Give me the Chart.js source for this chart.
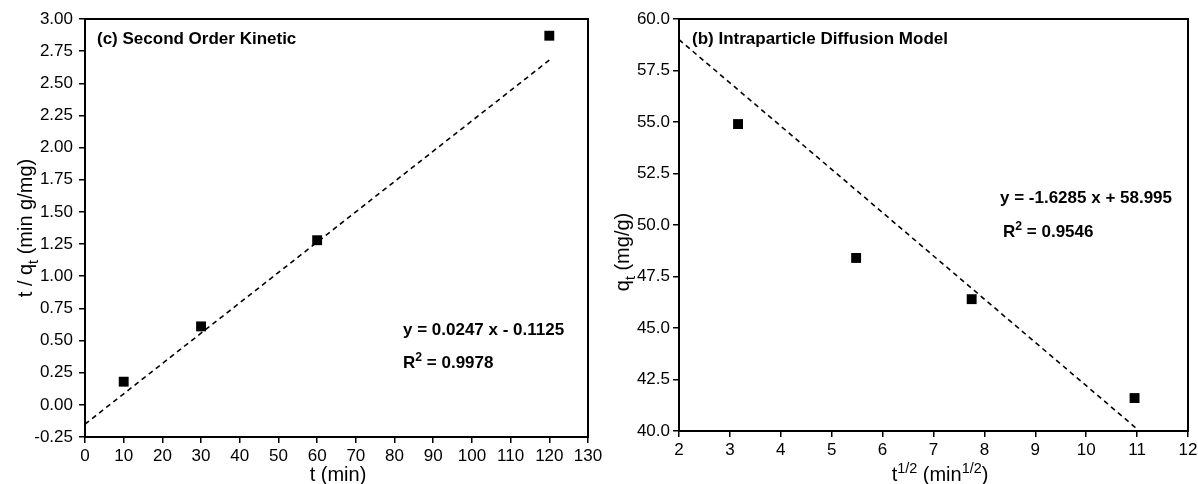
<!DOCTYPE html>
<html>
<head>
<meta charset="utf-8">
<script src="https://cdn.jsdelivr.net/npm/chart.js@4.4.1/dist/chart.umd.min.js"></script>
<style>
html,body{margin:0;padding:0;background:#fff;}
#wrap{position:relative;width:1198px;height:484px;overflow:hidden;}
#c1{position:absolute;left:0;top:0;}
#c2{position:absolute;left:600px;top:0;}
</style>
</head>
<body>
<div id="wrap">
<canvas id="c1" width="610" height="484"></canvas>
<canvas id="c2" width="598" height="484"></canvas>
</div>
<script>
// ---- Data: (c) Second Order Kinetic ----
const secT = [10, 30, 60, 120];
const secTq = [0.18, 0.61, 1.28, 2.87];
const secFitT = [0, 120];
const secFitTq = [-0.15, 2.68];
const secXTicks = [0,10,20,30,40,50,60,70,80,90,100,110,120,130];
const secYTicks = [-0.25,0,0.25,0.5,0.75,1,1.25,1.5,1.75,2,2.25,2.5,2.75,3];

// ---- Data: (b) Intraparticle Diffusion Model ----
const ipdT = [3.16, 5.48, 7.75, 10.95];
const ipdQ = [54.9, 48.4, 46.4, 41.6];
const ipdFitT = [2, 11];
const ipdFitQ = [59.0, 40.1];
const ipdXTicks = [2,3,4,5,6,7,8,9,10,11,12];
const ipdYTicks = [40,42.5,45,47.5,50,52.5,55,57.5,60];

const FONT = "'Liberation Sans', Arial, sans-serif";

function pts(xs, ys){ return xs.map((x,i)=>({x:x, y:ys[i]})); }

function richWidth(ctx, segs, size, bold){
  let w=0;
  segs.forEach(s=>{
    const sz = (s.sup||s.sub) ? size*0.72 : size;
    ctx.font = (bold?'bold ':'') + sz + 'px ' + FONT;
    w += ctx.measureText(s.t).width;
  });
  return w;
}
function richText(ctx, segs, x, y, size, bold, align){
  ctx.save();
  ctx.fillStyle = '#000';
  ctx.textBaseline = 'alphabetic';
  ctx.textAlign = 'left';
  let cx = x;
  if (align === 'center') cx = x - richWidth(ctx, segs, size, bold)/2;
  segs.forEach(s=>{
    const sz = (s.sup||s.sub) ? size*0.72 : size;
    ctx.font = (bold?'bold ':'') + sz + 'px ' + FONT;
    let dy = 0;
    if (s.sup) dy = -size*0.42;
    if (s.sub) dy = size*0.28;
    ctx.fillText(s.t, cx, y + dy);
    cx += ctx.measureText(s.t).width;
  });
  ctx.restore();
}

function makeTextPlugin(items){
  return {
    id:'texts',
    afterDraw(chart){
      const ctx = chart.ctx;
      const a = chart.chartArea;
      ctx.save();
      ctx.strokeStyle = '#000';
      ctx.lineWidth = 2;
      ctx.strokeRect(a.left, a.top, a.right - a.left, a.bottom - a.top);
      ctx.restore();
      items.forEach(it=>{
        if (it.rotate){
          ctx.save();
          ctx.translate(it.x, it.y);
          ctx.rotate(-Math.PI/2);
          richText(ctx, it.segs, 0, 0, it.size, it.bold, 'center');
          ctx.restore();
        } else {
          richText(ctx, it.segs, it.x, it.y, it.size, it.bold, it.align||'left');
        }
      });
    }
  };
}

function axisCommon(min, max, ticks, decimals, fit, pad){
  return {
    type:'linear', min:min, max:max,
    afterBuildTicks(s){ s.ticks = ticks.map(v=>({value:v})); },
    afterFit: fit,
    border:{display:true, color:'#000', width:2},
    grid:{display:true, drawOnChartArea:false, drawTicks:true, tickLength:6, color:'#000', lineWidth:1.5},
    ticks:{color:'#000', padding:pad, font:{family:FONT, size:17},
      callback:(v)=> decimals==null ? String(v) : Number(v).toFixed(decimals)},
    title:{display:false}
  };
}

function makeChart(id, xs, ys, fx, fy, xScale, yScale, padding, texts){
  return new Chart(document.getElementById(id), {
    type:'scatter',
    data:{datasets:[
      {data:pts(xs,ys), pointStyle:'rect', pointRadius:7, pointHoverRadius:7,
       backgroundColor:'#000', borderColor:'#000', borderWidth:0, showLine:false, order:0},
      {data:pts(fx,fy), showLine:true, pointRadius:0, borderColor:'#000', borderWidth:1.6,
       borderDash:[5,4], fill:false, order:1}
    ]},
    options:{
      responsive:false, animation:false,
      layout:{padding:padding},
      plugins:{legend:{display:false}, tooltip:{enabled:false}},
      scales:{x:xScale, y:yScale}
    },
    plugins:[makeTextPlugin(texts)]
  });
}

makeChart('c1', secT, secTq, secFitT, secFitTq,
  axisCommon(0, 130, secXTicks, null, s=>{s.height=47; s.paddingLeft=0; s.paddingRight=0;}, 3),
  axisCommon(-0.25, 3, secYTicks, 2, s=>{s.width=85; s.paddingTop=0; s.paddingBottom=0;}, 6),
  {top:19, right:22, left:0, bottom:0},
  [
    {segs:[{t:'(c) Second Order Kinetic'}], x:97, y:44, size:17, bold:true},
    {segs:[{t:'y = 0.0247 x - 0.1125'}], x:403, y:335, size:17, bold:true},
    {segs:[{t:'R'},{t:'2',sup:true},{t:' = 0.9978'}], x:403, y:368, size:17, bold:true},
    {segs:[{t:'t (min)'}], x:338, y:481, size:20, align:'center'},
    {segs:[{t:'t / q'},{t:'t',sub:true},{t:' (min g/mg)'}], x:32, y:228, size:20, rotate:true}
  ]);

makeChart('c2', ipdT, ipdQ, ipdFitT, ipdFitQ,
  axisCommon(2, 12, ipdXTicks, null, s=>{s.height=53; s.paddingLeft=0; s.paddingRight=0;}, 3),
  axisCommon(40, 60, ipdYTicks, 1, s=>{s.width=79; s.paddingTop=0; s.paddingBottom=0;}, 3),
  {top:19, right:10, left:0, bottom:0},
  [
    {segs:[{t:'(b) Intraparticle Diffusion Model'}], x:92, y:44, size:17, bold:true},
    {segs:[{t:'y = -1.6285 x + 58.995'}], x:400, y:203, size:17, bold:true},
    {segs:[{t:'R'},{t:'2',sup:true},{t:' = 0.9546'}], x:403, y:237, size:17, bold:true},
    {segs:[{t:'t'},{t:'1/2',sup:true},{t:' (min'},{t:'1/2',sup:true},{t:')'}], x:340, y:481, size:20, align:'center'},
    {segs:[{t:'q'},{t:'t',sub:true},{t:' (mg/g)'}], x:29, y:252, size:20, rotate:true}
  ]);
</script>
</body>
</html>
